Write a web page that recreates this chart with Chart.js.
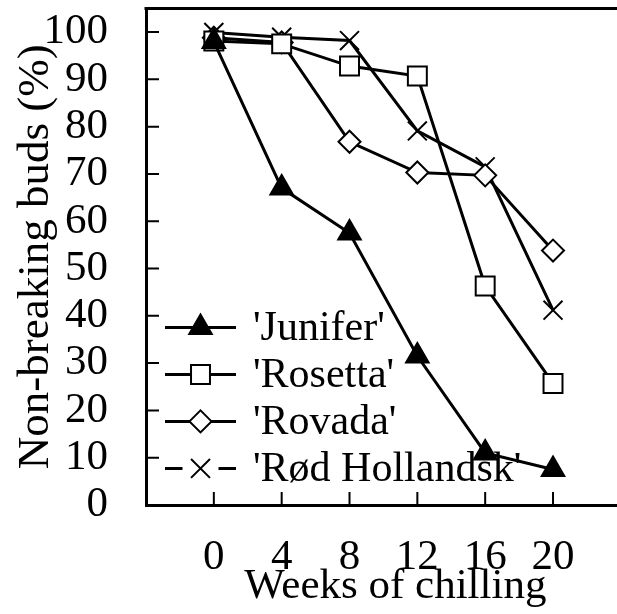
<!DOCTYPE html>
<html><head><meta charset="utf-8">
<style>html,body{margin:0;padding:0;background:#fff;overflow:hidden;width:617px;height:614px}canvas{display:block;margin-top:-7px}</style>
<script src="https://cdn.jsdelivr.net/npm/chart.js@4/dist/chart.umd.min.js"></script>
</head><body>
<canvas id="c" width="660" height="621"></canvas>
<script>
// ---- data ----
const weeks = [0, 4, 8, 12, 16, 20];
const junifer = [98, 67, 57.5, 31.5, 11, 7.5];
const rosetta = [98.1, 97.5, 92.8, 90.7, 46.3, 25.7];
const rovada = [98.8, 97.8, 76.8, 70.3, 69.7, 53.8];
const rodHollandsk = [99.9, 98.9, 98.2, 79.1, 71.5, 41.2];
const seriesNames = ["'Junifer'", "'Rosetta'", "'Rovada'", "'Rød Hollandsk'"];
const xTickValues = [0, 4, 8, 12, 16, 20];
const yTickValues = [0, 10, 20, 30, 40, 50, 60, 70, 80, 90, 100];
const xTitle = 'Weeks of chilling';
const yTitle = 'Non-breaking buds (%)';

const FONT = 'Liberation Serif';
Chart.defaults.font.family = FONT;
Chart.defaults.color = '#000';

function pts(vals) { return weeks.map((w, i) => ({ x: w, y: vals[i] })); }

const styles = [
  { pointStyle: 'triangle', pointRadius: 13, pointBackgroundColor: '#000' },
  { pointStyle: 'rect', pointRadius: 13.4, pointBackgroundColor: '#fff' },
  { pointStyle: 'rectRot', pointRadius: 11, pointBackgroundColor: '#fff' },
  { pointStyle: 'crossRot', pointRadius: 13.4, pointBackgroundColor: '#fff', legendGap: true }
];
const seriesValues = [junifer, rosetta, rovada, rodHollandsk];

const datasets = seriesValues.map((v, i) => Object.assign({
  label: seriesNames[i],
  data: pts(v),
  borderColor: '#000',
  borderWidth: 3,
  pointBorderColor: '#000',
  pointBorderWidth: 2,
  pointHoverRadius: 13,
  tension: 0,
  fill: false
}, styles[i]));

function drawMarker(ctx, ds, x, y) {
  ctx.save();
  ctx.fillStyle = ds.pointBackgroundColor;
  ctx.strokeStyle = ds.pointBorderColor;
  ctx.lineWidth = ds.pointBorderWidth;
  Chart.helpers.drawPoint(ctx, { pointStyle: ds.pointStyle, radius: ds.pointRadius, rotation: 0, borderWidth: ds.pointBorderWidth }, x, y);
  ctx.restore();
}

const frame = {
  id: 'frame',
  beforeDatasetsDraw(chart, args, opts) {
    const ctx = chart.ctx, ca = chart.chartArea;
    const xs = chart.scales.x, ys = chart.scales.y;
    ctx.save();
    ctx.strokeStyle = '#000';
    ctx.lineWidth = 3;
    ctx.beginPath();
    ctx.moveTo(ca.left - 1.5, ca.top);
    ctx.lineTo(ca.right, ca.top);
    ctx.stroke();
    ctx.lineWidth = 2;
    ctx.beginPath();
    yTickValues.forEach(v => {
      if (v === 0) return;
      const py = ys.getPixelForValue(v);
      ctx.moveTo(ca.left, py); ctx.lineTo(ca.left + opts.tickLen, py);
    });
    xTickValues.forEach(v => {
      const px = xs.getPixelForValue(v);
      ctx.moveTo(px, ca.bottom); ctx.lineTo(px, ca.bottom - opts.tickLen);
    });
    ctx.stroke();

    // legend (under the data)
    const L = opts.legend;
    chart.data.datasets.forEach((ds, i) => {
      const y = ca.top + L.y0 + i * L.rowH;
      ctx.strokeStyle = '#000';
      ctx.lineWidth = 3;
      ctx.beginPath();
      if (ds.legendGap) {
        const mid = (L.x0 + L.x1) / 2;
        ctx.moveTo(L.x0, y); ctx.lineTo(mid - 18, y);
        ctx.moveTo(mid + 18, y); ctx.lineTo(L.x1, y);
      } else {
        ctx.moveTo(L.x0, y); ctx.lineTo(L.x1, y);
      }
      ctx.stroke();
      drawMarker(ctx, ds, (L.x0 + L.x1) / 2, y);
      ctx.fillStyle = '#000';
      ctx.font = L.fontSize + 'px "' + FONT + '"';
      ctx.textBaseline = 'middle';
      ctx.textAlign = 'left';
      ctx.fillText(ds.label, L.textX, y + 2);
    });
    ctx.restore();
  }
};

new Chart(document.getElementById('c'), {
  type: 'line',
  data: { datasets },
  plugins: [frame],
  options: {
    responsive: false,
    animation: false,
    events: [],
    layout: { padding: { top: 8, right: 13, left: 0, bottom: 0 } },
    plugins: {
      legend: { display: false },
      tooltip: { enabled: false },
      frame: { tickLen: 13, legend: { x0: 165, x1: 236, textX: 253, y0: 319, rowH: 47, fontSize: 42 } }
    },
    scales: {
      x: {
        type: 'linear', min: -4, max: 25.4,
        afterBuildTicks: s => { s.ticks = xTickValues.map(v => ({ value: v })); },
        afterFit: s => { s.height = 109; s.paddingLeft = 0; s.paddingRight = 0; },
        grid: { display: false, drawTicks: false },
        border: { display: true, width: 3, color: '#000' },
        ticks: { autoSkip: false, maxRotation: 0, padding: 27, color: '#000', font: { family: FONT, size: 43 } },
        title: { display: true, text: xTitle, color: '#000', font: { family: FONT, size: 43 }, padding: { top: 0, bottom: 1 } }
      },
      y: {
        type: 'linear', min: 0, max: 105,
        afterBuildTicks: s => { s.ticks = yTickValues.map(v => ({ value: v })); },
        afterFit: s => { s.width = 146; s.paddingTop = 0; s.paddingBottom = 0; },
        grid: { display: false, drawTicks: false },
        border: { display: true, width: 3, color: '#000' },
        ticks: { autoSkip: false, padding: 38, color: '#000', font: { family: FONT, size: 43 } },
        title: { display: true, text: yTitle, color: '#000', font: { family: FONT, size: 45 }, padding: { top: 9, bottom: 0 } }
      }
    }
  }
});
</script>
</body></html>
